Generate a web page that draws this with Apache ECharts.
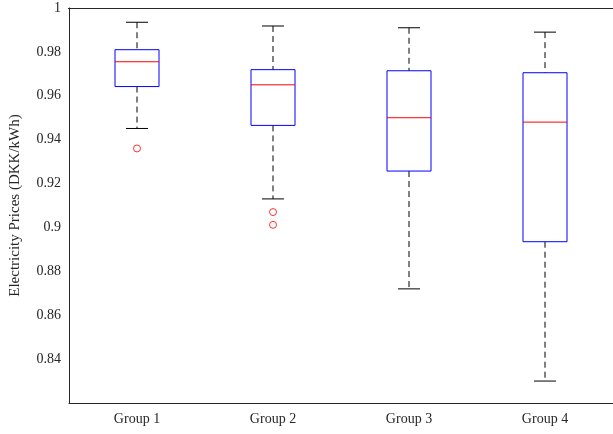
<!DOCTYPE html>
<html><head><meta charset="utf-8">
<script src="https://cdn.jsdelivr.net/npm/echarts@6/dist/echarts.min.js"></script>
<style>html,body{margin:0;background:#fff}#c{width:613px;height:434px}</style>
</head><body><div id="c"></div>
<script>
const categories = ["Group 1", "Group 2", "Group 3", "Group 4"]
// [lower whisker, Q1, median, Q3, upper whisker]
const boxStats = [
  [0.9451, 0.9642, 0.9755, 0.9810, 0.9935],
  [0.9130, 0.9465, 0.9650, 0.9719, 0.9918],
  [0.8720, 0.9257, 0.9500, 0.9714, 0.9910],
  [0.8300, 0.8935, 0.9480, 0.9705, 0.9890]
]
const outliers = [[0, 0.9360], [1, 0.9070], [1, 0.9012]]

const chart = echarts.init(document.getElementById("c"))
const font = "Liberation Serif"

chart.setOption({
  animation: false,
  grid: { left: 68, top: 8, width: 548, bottom: 31 },
  xAxis: {
    type: "category", data: categories,
    axisLine: { lineStyle: { color: "#262626" } },
    axisTick: { alignWithLabel: true, inside: true, length: 5, lineStyle: { color: "#262626" } },
    axisLabel: { fontFamily: font, fontSize: 14, color: "#262626", margin: 9 }
  },
  yAxis: {
    type: "value", min: 0.82, max: 1, interval: 0.02,
    name: "Electricity Prices (DKK/kWh)", nameLocation: "middle", nameGap: 46,
    nameTextStyle: { fontFamily: font, fontSize: 15, color: "#262626" },
    axisLine: { show: true, lineStyle: { color: "#262626" } },
    axisTick: { inside: true, length: 5, lineStyle: { color: "#262626" } },
    axisLabel: { fontFamily: font, fontSize: 14, color: "#262626", showMinLabel: false,
      formatter: v => String(+v.toFixed(2)) },
    splitLine: { show: false }
  },
  series: [
    {
      type: "custom",
      data: boxStats.map((s, i) => [i].concat(s)),
      renderItem: (params, api) => {
        const i = api.value(0)
        const p = k => api.coord([i, api.value(k)])
        const lo = p(1), q1 = p(2), md = p(3), q3 = p(4), hi = p(5)
        const x = lo[0], hw = 22, cw = 11
        const dash = { stroke: "#000", lineWidth: 1, lineDash: [6, 4] }
        const solid = { stroke: "#000", lineWidth: 1 }
        return {
          type: "group", children: [
            { type: "line", shape: { x1: x, y1: hi[1], x2: x, y2: q3[1] }, style: dash },
            { type: "line", shape: { x1: x, y1: q1[1], x2: x, y2: lo[1] }, style: dash },
            { type: "line", shape: { x1: x - cw, y1: hi[1], x2: x + cw, y2: hi[1] }, style: solid },
            { type: "line", shape: { x1: x - cw, y1: lo[1], x2: x + cw, y2: lo[1] }, style: solid },
            { type: "rect", shape: { x: x - hw, y: q3[1], width: 2 * hw, height: q1[1] - q3[1] },
              style: { fill: "none", stroke: "#0000ff", lineWidth: 1 } },
            { type: "line", shape: { x1: x - hw, y1: md[1], x2: x + hw, y2: md[1] },
              style: { stroke: "#ff0000", lineWidth: 1 } }
          ]
        }
      }
    },
    {
      type: "scatter", data: outliers, symbol: "circle", symbolSize: 7,
      itemStyle: { color: "none", borderColor: "#ff0000", borderWidth: 1 }
    },
    {
      type: "line", data: [], markLine: { silent: true, symbol: "none", label: { show: false },
        lineStyle: { color: "#262626", type: "solid", width: 1 },
        data: [[{ xAxis: 3, yAxis: 1, x: 68 }, { x: 616, y: 8 }]] }
    }
  ]
})
</script></body></html>
